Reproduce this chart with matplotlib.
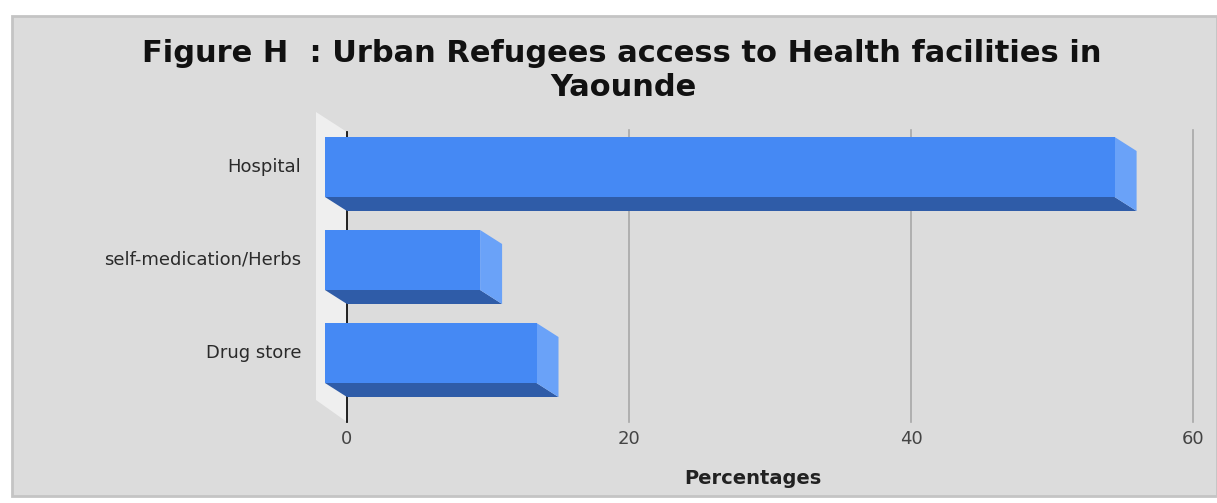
import matplotlib.pyplot as plt
from matplotlib.patches import Polygon, Rectangle

# chart data
categories = ["Hospital", "self-medication/Herbs", "Drug store"]
values = [56, 11, 15]
xticks = [0, 20, 40, 60]

W, H = 1217, 503
PX_PER_UNIT = 14.1   # pixels per percent on the x axis
X0_PX = 347          # pixel position of value 0
ROW_PX = 93          # pixels between category rows
ROW0_PX = 167        # pixel centre of first row

front_col = "#4589f4"
bottom_col = "#2f5ca8"
side_col = "#6aa2f8"
bg_col = "#dcdcdc"

fig = plt.figure(figsize=(W / 100, H / 100), dpi=100)
fig.patch.set_facecolor("white")

# gray panel with a soft border
fig.patches.append(Rectangle((12 / W, 1 - 496 / H), (W - 12) / W, 480 / H,
                             transform=fig.transFigure, facecolor=bg_col,
                             edgecolor="#c4c4c4", linewidth=2, zorder=-10))

ax = fig.add_axes([300 / W, 1 - 430 / H, 910 / W, 330 / H])
ax.set_xlim((300 - X0_PX) / PX_PER_UNIT, (1210 - X0_PX) / PX_PER_UNIT)
ax.set_ylim((430 - ROW0_PX) / ROW_PX, (100 - ROW0_PX) / ROW_PX)
ax.axis("off")
ax.set_zorder(5)


def ypx(p):
    return (p - ROW0_PX) / ROW_PX


def xpx(p):
    return (p - X0_PX) / PX_PER_UNIT


# left wall
wall = Polygon([(xpx(316), ypx(112)), (0, ypx(132)), (0, ypx(422)), (xpx(316), ypx(400))],
               closed=True, facecolor="#efefef", edgecolor="none", zorder=1)
ax.add_patch(wall)

# gridlines
for t in xticks[1:]:
    ax.plot([t, t], [ypx(130), ypx(422)], color="#a8a8a8", lw=1.2, zorder=1)
ax.plot([0, 0], [ypx(132), ypx(422)], color="#111111", lw=1.3, zorder=2)

dx = 22 / PX_PER_UNIT
dy = 14 / ROW_PX
h = 30 / ROW_PX

for i, v in enumerate(values):
    front = Rectangle((-dx, i - h), v, 2 * h, facecolor=front_col, edgecolor="none", zorder=4)
    bottom = Polygon([(-dx, i + h), (v - dx, i + h), (v, i + h + dy), (0, i + h + dy)],
                     closed=True, facecolor=bottom_col, edgecolor="none", zorder=3)
    side = Polygon([(v - dx, i - h), (v, i - h + dy), (v, i + h + dy), (v - dx, i + h)],
                   closed=True, facecolor=side_col, edgecolor="none", zorder=3)
    ax.add_patch(bottom)
    ax.add_patch(side)
    ax.add_patch(front)
    ax.text(xpx(301), i, categories[i], ha="right", va="center", fontsize=13,
            color="#2a2a2a", family="DejaVu Sans")

for t in xticks:
    ax.text(t, ypx(439), str(t), ha="center", va="center", fontsize=13,
            color="#444444", clip_on=False, family="DejaVu Sans")

fig.text(753 / W, 1 - 478 / H, "Percentages", ha="center", va="center",
         fontsize=14, fontweight="bold", color="#222222", family="DejaVu Sans")

fig.text(622 / W, 1 - 53 / H, "Figure H  : Urban Refugees access to Health facilities in",
         ha="center", va="center", fontsize=22, fontweight="bold", color="#111111",
         family="DejaVu Sans")
fig.text(623 / W, 1 - 87 / H, "Yaounde", ha="center", va="center", fontsize=22,
         fontweight="bold", color="#111111", family="DejaVu Sans")

fig.savefig("out.png", dpi=100, facecolor=fig.get_facecolor())
